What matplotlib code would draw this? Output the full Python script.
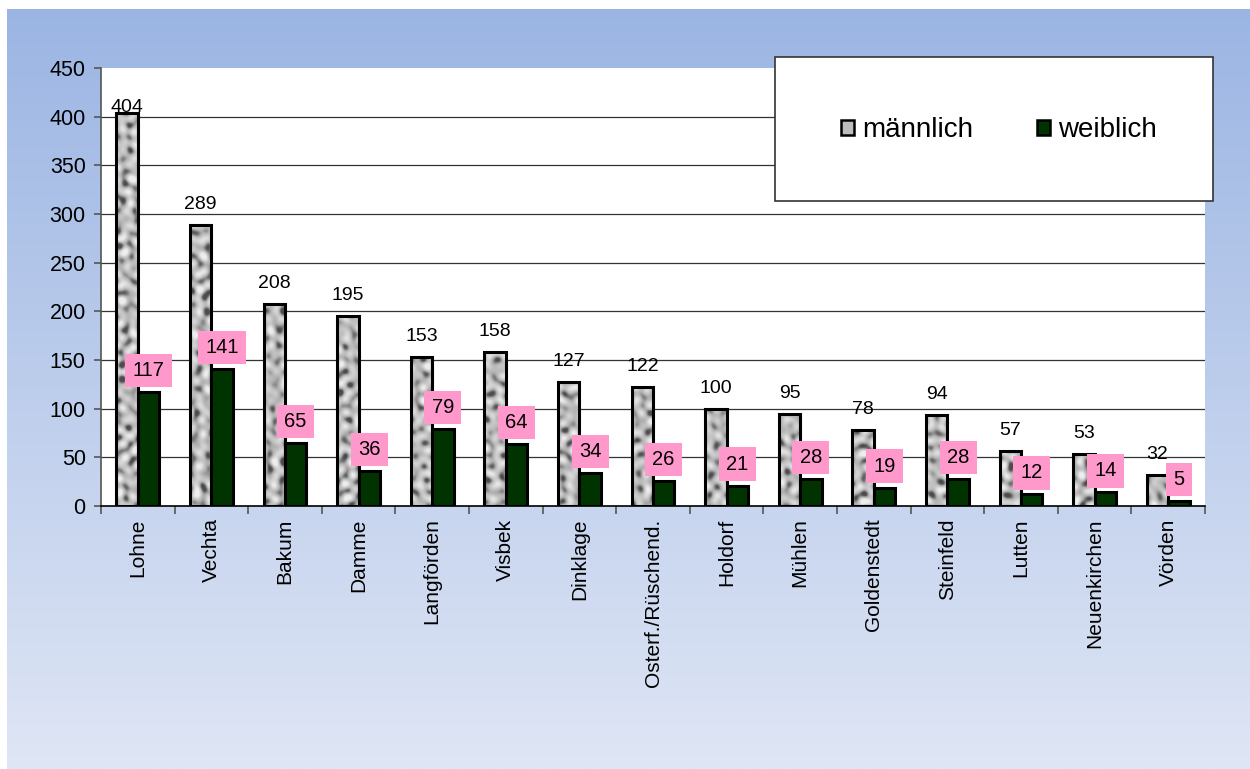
import numpy as np
import matplotlib
matplotlib.use("Agg")
import matplotlib.pyplot as plt
from matplotlib.patches import Rectangle, Patch

plt.rcParams['font.family'] = ['Liberation Sans', 'DejaVu Sans']

categories = ["Lohne", "Vechta", "Bakum", "Damme", "Langförden", "Visbek", "Dinklage",
              "Osterf./Rüschend.", "Holdorf", "Mühlen", "Goldenstedt", "Steinfeld",
              "Lutten", "Neuenkirchen", "Vörden"]
male = [404, 289, 208, 195, 153, 158, 127, 122, 100, 95, 78, 94, 57, 53, 32]
female = [117, 141, 65, 36, 79, 64, 34, 26, 21, 28, 19, 28, 12, 14, 5]
series_names = ["männlich", "weiblich"]
yticks = [0, 50, 100, 150, 200, 250, 300, 350, 400, 450]

W, H = 1250, 769
fig = plt.figure(figsize=(W / 100, H / 100), dpi=100)
fig.patch.set_facecolor("white")

# gradient background
bg = fig.add_axes([7 / W, 0, 1 - 7 / W, 1 - 9 / H], zorder=0)
bg.axis("off")
top_c = np.array([0x9b, 0xb5, 0xe3]) / 255
bot_c = np.array([0xdf, 0xe6, 0xf5]) / 255
t = np.linspace(0, 1, 256)[:, None]
grad = (top_c[None, :] * (1 - t) + bot_c[None, :] * t)[:, None, :]
bg.imshow(grad, aspect="auto", extent=(0, 1, 0, 1))

# main axes
L, R, T, B = 101, 1205, 68, 506
ax = fig.add_axes([L / W, 1 - B / H, (R - L) / W, (B - T) / H], zorder=1)
ax.set_facecolor("white")
n = len(categories)
x = np.arange(n)

for yv in yticks[1:-1]:
    ax.axhline(yv, color="#333333", lw=0.9, zorder=1)

bw = 0.29
mb = ax.bar(x - bw / 2, male, width=bw, facecolor="none", edgecolor="black",
            linewidth=2.2, zorder=3)
fb = ax.bar(x + bw / 2, female, width=bw, facecolor="#003300", edgecolor="black",
            linewidth=2.2, zorder=3)

# granite-like texture (deterministic)
px_w, px_h = R - L, B - T
gx, gy = np.meshgrid(np.arange(px_w), np.arange(px_h))
waves = [(0.55, 0.31, 0.3), (-0.42, 0.60, 1.1), (0.71, -0.25, 2.0), (0.12, 0.78, 0.7),
         (-0.66, -0.45, 2.7), (0.93, 0.18, 1.9), (-0.20, -0.95, 0.4), (0.37, 0.88, 2.4),
         (1.05, -0.60, 1.4), (-0.85, 0.30, 0.9)]
z = np.zeros_like(gx, dtype=float)
for a, b, ph in waves:
    a2, b2 = a * 0.5, b * 0.5
    z += np.sin(a2 * gx + b2 * gy + ph) * np.cos(0.45 * a2 * gy - 0.4 * b2 * gx + ph * 1.7)
z = z / z.std()
g = np.clip(0.74 + 0.09 * z - 0.16 * np.clip(-z - 0.6, 0, None), 0.3, 0.93)
tex = np.dstack([g, g, g])
for p in mb:
    im = ax.imshow(tex, extent=(-0.5, n - 0.5, 0, 450), origin="upper",
                   aspect="auto", zorder=2.9, interpolation="bilinear")
    im.set_clip_path(p)
ax.set_xlim(-0.5, n - 0.5)
ax.set_ylim(0, 450)

# value labels
for i, v in enumerate(male):
    ax.text(i - bw / 2, min(v + 21, 409), str(v), ha="center", va="center",
            fontsize=14, zorder=5)
for i, v in enumerate(female):
    ax.text(i + bw / 2, v + 22, str(v), ha="center", va="center", fontsize=14.5, zorder=6,
            bbox=dict(boxstyle="square,pad=0.36", facecolor="#ff99cc", edgecolor="none"))

# axes styling
for s in ["top", "right"]:
    ax.spines[s].set_visible(False)
ax.spines["left"].set_color("#555555")
ax.spines["left"].set_linewidth(1.2)
ax.spines["bottom"].set_color("black")
ax.spines["bottom"].set_linewidth(1.2)
ax.set_yticks(yticks)
ax.set_yticklabels([str(v) for v in yticks], fontsize=15.5)
ax.tick_params(axis="y", direction="out", length=5, color="#555555", width=1.2, pad=6)
ax.set_xticks(np.arange(-0.5, n, 1.0))
ax.set_xticklabels([])
ax.tick_params(axis="x", direction="out", length=6, color="#555555", width=1.2)
ax.set_xticks(x, minor=True)
ax.set_xticklabels(categories, minor=True, rotation=90, fontsize=15)
ax.tick_params(axis="x", which="minor", length=0, pad=9)

# legend box
lx0, ly0, lx1, ly1 = 775, 57, 1213, 201
fig.patches.append(Rectangle((lx0 / W, 1 - ly1 / H), (lx1 - lx0) / W, (ly1 - ly0) / H,
                             transform=fig.transFigure, facecolor="white",
                             edgecolor="#333333", linewidth=1.2, zorder=2))
handles = [Patch(facecolor="#bdbdbd", edgecolor="black", linewidth=1.8),
           Patch(facecolor="#003300", edgecolor="black", linewidth=1.8)]
leg = fig.legend(handles, series_names, loc="center", ncol=2, frameon=False,
                 bbox_to_anchor=((lx0 + lx1) / 2 / W + 5 / W, 1 - (ly0 + ly1) / 2 / H - 1 / H),
                 fontsize=20, handlelength=0.45, handleheight=0.45, handletextpad=0.3,
                 columnspacing=2.3)
leg.set_zorder(3)

fig.savefig("out.png", dpi=100, facecolor=fig.get_facecolor())
